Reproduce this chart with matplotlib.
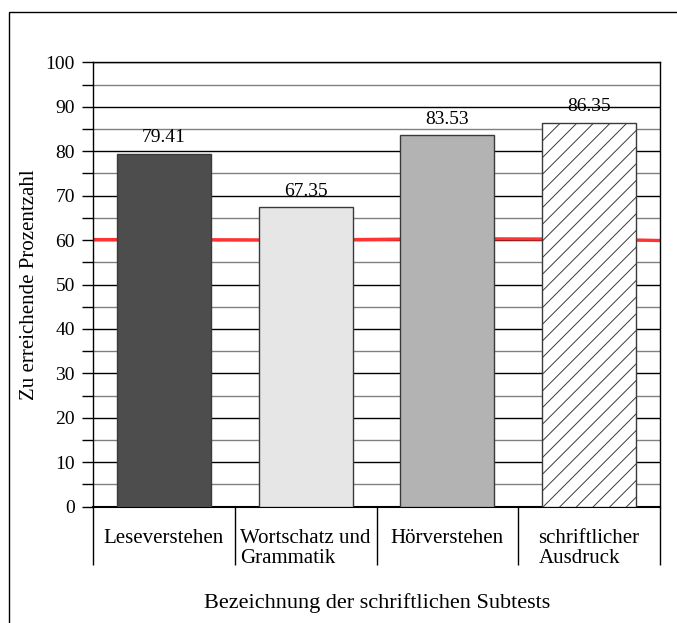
import matplotlib
matplotlib.use("Agg")
import matplotlib.pyplot as plt
from matplotlib.patches import Rectangle

# Daten
kategorien = ["Leseverstehen", "Wortschatz und\nGrammatik", "Hörverstehen", "schriftlicher\nAusdruck"]
werte = [79.41, 67.35, 83.53, 86.35]
farben = ["#4d4d4d", "#e6e6e6", "#b3b3b3", "white"]
muster = ["", "", "", "//"]

# Grenzlinie (ca. 60 %)
grenze_x = [-0.5, 0, 1, 2, 3, 3.5]
grenze_y = [60.1, 60.1, 60.0, 60.3, 60.2, 59.9]

plt.rcParams["font.family"] = ["Liberation Serif", "DejaVu Serif"]
plt.rcParams["hatch.linewidth"] = 0.7

fig = plt.figure(figsize=(6.77, 6.23), dpi=100)
ax = fig.add_axes([93/677, 1-506.7/623, (660-93)/677, (506.7-62.3)/623])

# Rahmen um die Grafik
fig.patches.append(Rectangle((9/677, -0.2), 1.2, 1.2 - 12/623, transform=fig.transFigure,
                             fill=False, lw=1.0, edgecolor="black"))

# Gitterlinien
for y in range(5, 100, 10):
    ax.axhline(y, color="#808080", lw=1.0, zorder=1)
for y in range(10, 101, 10):
    ax.axhline(y, color="black", lw=1.0, zorder=1)

ax.plot(grenze_x, grenze_y, color="#ff3333", lw=2.4, zorder=2, solid_capstyle="butt")

pos = range(len(werte))
ax.bar(pos, werte, width=0.663, color=farben, edgecolor="#3a3a3a", lw=1.0,
       hatch=muster, zorder=3)

for i, v in enumerate(werte):
    ax.text(i, v + 2.6, f"{v:.2f}", ha="center", va="baseline", fontsize=14, zorder=4)

ax.set_xlim(-0.5, 3.5)
ax.set_ylim(0, 100)

ax.set_yticks(range(0, 101, 10))
ax.set_yticks(range(5, 100, 10), minor=True)
ax.tick_params(axis="y", which="both", direction="out", length=8, width=1, labelsize=14, pad=5)

ax.set_xticks([-0.5, 0.5, 1.5, 2.5, 3.5])
ax.set_xticklabels([])
ax.set_xticks(list(pos), minor=True)
ax.set_xticklabels(kategorien, minor=True, multialignment="left", linespacing=1.05)
ax.tick_params(axis="x", which="major", direction="out", length=42, width=1)
ax.tick_params(axis="x", which="minor", length=0, labelsize=15, pad=16)

for s in ["left", "right", "top"]:
    ax.spines[s].set_linewidth(1)
ax.spines["bottom"].set_linewidth(1.5)

ax.set_ylabel("Zu erreichende Prozentzahl", fontsize=15, labelpad=5)
fig.text(377/677, 1-603/623, "Bezeichnung der schriftlichen Subtests", ha="center", va="center",
         fontsize=16)

plt.savefig("out.png", dpi=100)
